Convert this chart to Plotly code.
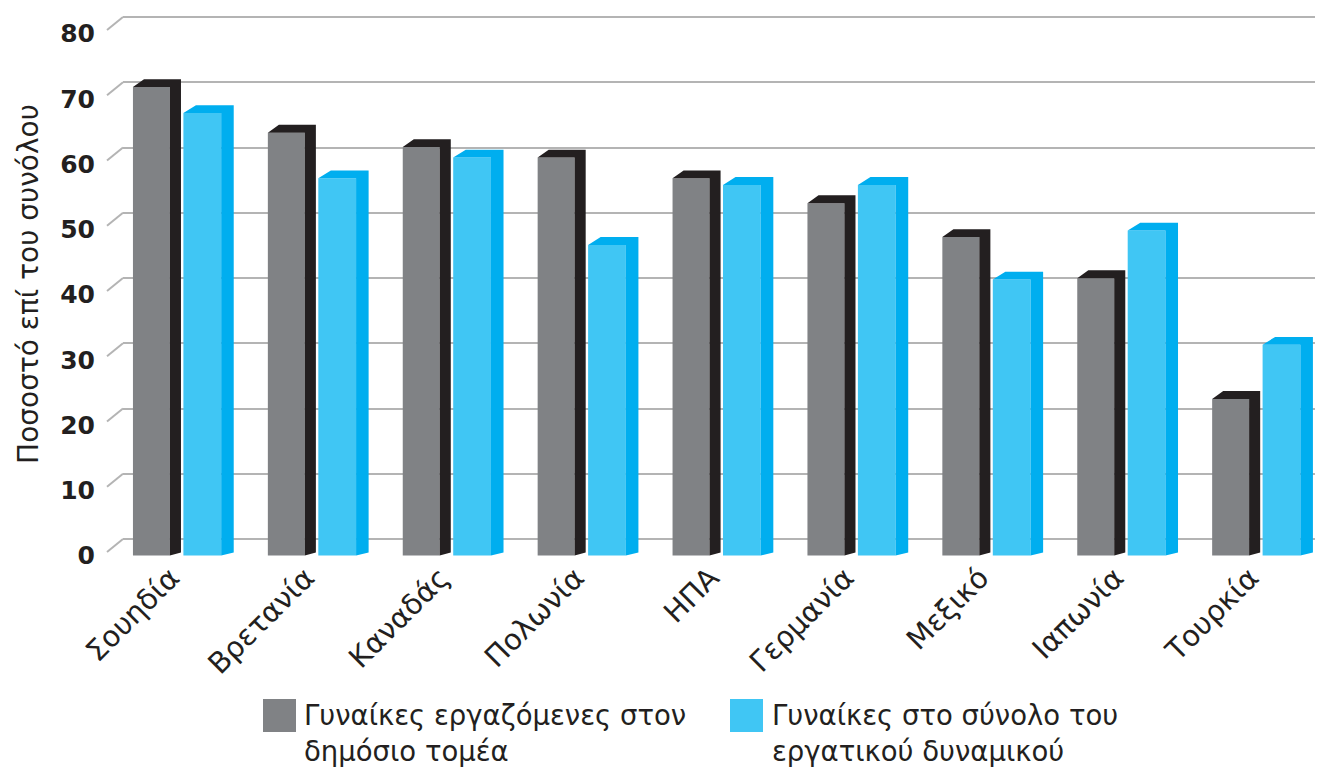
import plotly.graph_objects as go
import numpy as np

countries = ["Σουηδία", "Βρετανία", "Καναδάς", "Πολωνία", "ΗΠΑ",
             "Γερμανία", "Μεξικό", "Ιαπωνία", "Τουρκία"]
public_sector = [71.8, 64.8, 62.6, 61.0, 57.8, 54.0, 48.8, 42.5, 24.0]
labour_force = [67.8, 57.8, 61.0, 47.6, 56.8, 56.8, 42.3, 49.8, 32.3]
y_ticks = [0, 10, 20, 30, 40, 50, 60, 70, 80]

name_public = "Γυναίκες εργαζόμενες στον<br>δημόσιο τομέα"
name_labour = "Γυναίκες στο σύνολο του<br>εργατικού δυναμικού"
y_title = "Ποσοστό επί του συνόλου"

FONT = "DejaVu Sans"
TXT = "#231f20"
GRAY, GRAY_DARK = "#808285", "#231f20"
BLUE, BLUE_DARK = "#40c6f4", "#00aeef"

pos = np.arange(len(countries))

# geometry (category units / value units)
G_OFF, G_W, G_DX = -0.371, 0.274, 0.082
B_OFF, B_W, B_DX = 0.003, 0.280, 0.093
DY_TOP, DY_BOT = 1.2, 0.45

# page body has an 8px margin: work in window pixels, shift by 8
PAGE = 8
WIN_W, WIN_H = 1323, 771
W, H = WIN_W - PAGE, WIN_H - PAGE
L = 123 - PAGE          # plot left (window px 123)
T = 0                   # plot top  (window px 8)
plot_bottom = 560 - PAGE
R = 0
B = H - plot_bottom
plot_w = W - L - R
plot_h = plot_bottom - T

spacing = 134.9
x_min = -(183 - 123) / spacing
x_max = x_min + plot_w / spacing
scale = 6.525
front_zero = 555.5 - PAGE
back_zero = 539 - PAGE


def faces(values, off, w, dx):
    xs, ys = [], []
    for p, v in zip(pos, values):
        x0 = p + off
        x1 = x0 + w
        xs += [x1, x1, x0, x0 + dx, x1 + dx, x1 + dx, x1, None]
        ys += [0, v, v, v + DY_TOP, v + DY_TOP, DY_BOT, 0, None]
    return xs, ys


fig = go.Figure()
for vals, off, w, dx, c_front, c_dark, nm in [
    (public_sector, G_OFF, G_W, G_DX, GRAY, GRAY_DARK, name_public),
    (labour_force, B_OFF, B_W, B_DX, BLUE, BLUE_DARK, name_labour),
]:
    xs, ys = faces(vals, off, w, dx)
    fig.add_trace(go.Scatter(x=xs, y=ys, mode="lines", fill="toself",
                             fillcolor=c_dark, line=dict(width=0, color=c_dark),
                             hoverinfo="skip", showlegend=False))
    fig.add_trace(go.Bar(x=pos, y=vals, offset=off, width=w, name=nm,
                         marker=dict(color=c_front, line=dict(width=0)),
                         showlegend=False))

# back-wall gridlines on an overlaid axis
fig.add_trace(go.Scatter(x=[None], y=[None], yaxis="y2", showlegend=False))

fig.update_layout(
    width=W, height=H,
    margin=dict(l=L, r=R, t=T, b=B),
    paper_bgcolor="white", plot_bgcolor="white",
    font=dict(family=FONT, color=TXT, size=26),
    barmode="overlay",
    showlegend=False,
    xaxis=dict(range=[x_min, x_max], tickvals=list(pos), ticktext=countries,
               tickangle=-45, showgrid=False, zeroline=False, showline=False,
               ticks="", ticklabelstandoff=-6, ticklabelshift=-12,
               tickfont=dict(family=FONT, size=29, color=TXT)),
    yaxis=dict(range=[(front_zero - plot_h) / scale, front_zero / scale],
               tickvals=y_ticks, showgrid=False, zeroline=False, showline=False,
               ticks="", ticklabelstandoff=27,
               tickfont=dict(family=FONT, size=25, color=TXT, weight="bold"),
               title=dict(text=y_title, standoff=13,
                          font=dict(family=FONT, size=28, color=TXT))),
    yaxis2=dict(range=[(back_zero - plot_h) / scale, back_zero / scale],
                overlaying="y", tickvals=y_ticks, showticklabels=False,
                showgrid=True, gridcolor="#b4b4b4", gridwidth=2,
                zeroline=False, showline=False, ticks=""),
)

# diagonal stubs of the gridlines (front edge to back wall)
stub_x = (107 - 123) / plot_w
front_minus_back = (back_zero - (552 - PAGE)) / scale
for v in y_ticks:
    fig.add_shape(type="line", xref="paper", yref="y2",
                  x0=stub_x, y0=v + front_minus_back, x1=0, y1=v,
                  line=dict(color="#b4b4b4", width=2), layer="below")


# legend drawn manually (large square swatches); window px -> paper
def px_x(x):
    return (x - PAGE - L) / plot_w


def px_y(y):
    return (plot_bottom - (y - PAGE)) / plot_h


for sx, tx, col, txt in [(263, 302, GRAY, name_public),
                         (730, 770, BLUE, name_labour)]:
    fig.add_shape(type="rect", xref="paper", yref="paper",
                  x0=px_x(sx), x1=px_x(sx + 33), y0=px_y(732), y1=px_y(699),
                  fillcolor=col, line=dict(width=0))
    fig.add_annotation(xref="paper", yref="paper", x=px_x(tx), y=px_y(697),
                       xanchor="left", yanchor="top", align="left",
                       showarrow=False, text=txt,
                       font=dict(family=FONT, size=27.5, color=TXT))

fig.write_html("out.html")
